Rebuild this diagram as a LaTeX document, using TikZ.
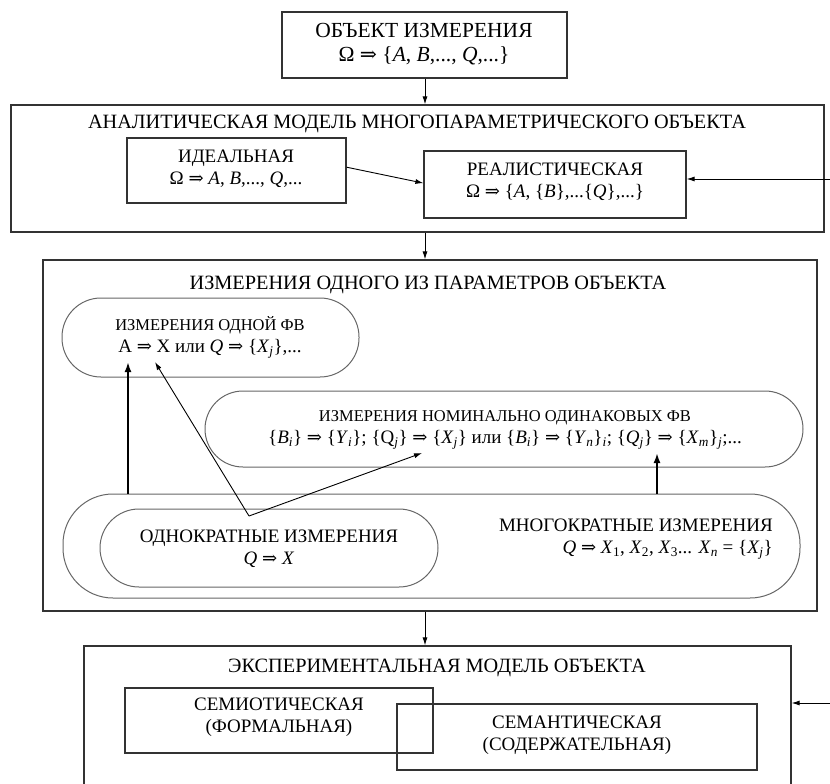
\documentclass[tikz,border=0pt]{standalone}
\usepackage{fontspec}
\setmainfont{Liberation Serif}
\newfontfamily\symf[Scale=0.95]{DejaVu Serif}
\usetikzlibrary{arrows.meta,fit,calc}
\newcommand{\Ra}{{\symf ⇒}}
\newcommand{\iv}[1]{\textit{#1}}
\newcommand{\sbs}[1]{\textsubscript{\textit{#1}}}
\newcommand{\smt}[1]{{\fontsize{16.5}{22}\selectfont #1}}
\begin{document}
\begin{tikzpicture}[x=1pt,y=-1pt,
  every node/.style={font=\fontsize{19}{22}\selectfont, inner sep=0pt},
  bigt/.style={font=\fontsize{20.3}{23}\selectfont},
  topt/.style={font=\fontsize{21.5}{24}\selectfont},
  frame/.style={draw=black!80, line width=1.2pt, inner sep=0pt},
  pill/.style={draw=black!60, line width=1pt, inner sep=0pt},
  txt/.style={align=center, text=black},
  arr/.style={-{Latex[length=8pt,width=5pt]}, line width=0.9pt, draw=black},
  tarr/.style={-{Latex[length=10pt,width=7pt]}, line width=2.4pt, draw=black}]
\useasboundingbox (0,0) rectangle (830,784);

% boxes
\node[frame, fit={(282,12) (567,78)}] (obj) {};
\node[frame, fit={(11,105) (824,232)}] (anal) {};
\node[frame, fit={(127,138) (346,203)}] (ideal) {};
\node[frame, fit={(424,151) (686,218)}] (real) {};
\node[frame, fit={(43,260) (817,611)}] (meas) {};
\node[pill, rounded corners=39pt, fit={(62,298) (359,377)}] (one) {};
\node[pill, rounded corners=38pt, fit={(205,391) (803,467)}] (nom) {};
\node[pill, rounded corners=50pt, fit={(63,494) (800,598)}] (multi) {};
\node[pill, rounded corners=39pt, fit={(100,509) (438,587)}] (single) {};
\node[frame, fit={(84,646) (791,800)}] (exper) {};
\node[frame, fit={(125,688) (433,753)}] (semio) {};
\node[frame, fit={(397,704) (757,770)}] (seman) {};

% texts
\node[txt, topt] (objt) at (424,44) {ОБЪЕКТ ИЗМЕРЕНИЯ\\Ω \Ra{} \{\iv{A}, \iv{B},..., \iv{Q},...\}};
\node[txt, bigt] (analt) at (417,124) {АНАЛИТИЧЕСКАЯ МОДЕЛЬ МНОГОПАРАМЕТРИЧЕСКОГО ОБЪЕКТА};
\node[txt] (idealt) at (236,169) {ИДЕАЛЬНАЯ\\Ω \Ra{} \iv{A}, \iv{B},..., \iv{Q},...};
\node[txt] (realt) at (555,182) {РЕАЛИСТИЧЕСКАЯ\\Ω \Ra{} \{\iv{A}, \{\iv{B}\},...\{\iv{Q}\},...\}};
\node[txt, bigt] (meast) at (428,285) {ИЗМЕРЕНИЯ ОДНОГО ИЗ ПАРАМЕТРОВ ОБЪЕКТА};
\node[txt] (onet) at (210,337) {\smt{ИЗМЕРЕНИЯ ОДНОЙ ФВ}\\A \Ra{} X или \iv{Q} \Ra{} \{\iv{X}\sbs{j}\},...};
\node[txt] (nomt) at (505,430) {\smt{ИЗМЕРЕНИЯ НОМИНАЛЬНО ОДИНАКОВЫХ ФВ}\\\{\iv{B}\sbs{i}\} \Ra{} \{\iv{Y}\sbs{i}\}; \{Q\sbs{j}\} \Ra{} \{\iv{X}\sbs{j}\} или \{\iv{B}\sbs{i}\} \Ra{} \{\iv{Y}\sbs{n}\}\sbs{i}; \{\iv{Q}\sbs{j}\} \Ra{} \{\iv{X}\sbs{m}\}\sbs{j};...};
\node[txt] (singlet) at (269,549) {ОДНОКРАТНЫЕ ИЗМЕРЕНИЯ\\\iv{Q} \Ra{} \iv{X}};
\node[txt, align=right, anchor=east] (multit) at (773,539) {МНОГОКРАТНЫЕ ИЗМЕРЕНИЯ\\\iv{Q} \Ra{} \iv{X}\textsubscript{1}, \iv{X}\textsubscript{2}, \iv{X}\textsubscript{3}... \iv{X}\sbs{n} = \{\iv{X}\sbs{j}\}};
\node[txt, bigt] (expt) at (437,668) {ЭКСПЕРИМЕНТАЛЬНАЯ МОДЕЛЬ ОБЪЕКТА};
\node[txt] (semiot) at (279,717) {СЕМИОТИЧЕСКАЯ\\(ФОРМАЛЬНАЯ)};
\node[txt] (semant) at (577,735) {СЕМАНТИЧЕСКАЯ\\(СОДЕРЖАТЕЛЬНАЯ)};

% connectors
\coordinate (cx) at (425,0);
\draw[arr] (obj.south -| cx) -- (anal.north -| cx);
\draw[arr] (anal.south -| cx) -- (meas.north -| cx);
\draw[arr] (meas.south -| cx) -- (exper.north -| cx);
\draw[arr] ($(ideal.north east)!0.45!(ideal.south east)$) -- ($(real.north west)!0.48!(real.south west)$);
\coordinate (r1) at (830,179);
\draw[arr] (r1) -- (r1 -| real.east);
\coordinate (r2) at (830,703);
\draw[arr] (r2) -- (r2 -| exper.east);
\coordinate (t1) at (128,362);
\coordinate (t2) at (657,453);
\draw[tarr] (t1 |- multi.north) -- (t1);
\draw[tarr] (t2 |- multi.north) -- (t2);
\coordinate (v) at (249,516);
\coordinate (a1) at (155,362);
\coordinate (a2) at (422,453);
\draw[arr] (v) -- (a1);
\draw[arr] (v) -- (a2);
\end{tikzpicture}
\end{document}
